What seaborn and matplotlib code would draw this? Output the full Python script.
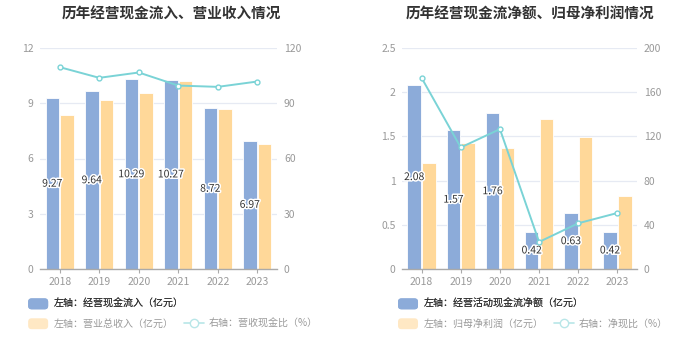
import matplotlib
matplotlib.use("Agg")
import matplotlib.pyplot as plt
import matplotlib.patheffects as pe
from matplotlib.patches import Patch, FancyBboxPatch
from matplotlib.lines import Line2D
from matplotlib.legend_handler import HandlerPatch
import seaborn as sns
import pandas as pd

sns.set_theme(style="white")
plt.rcParams['font.family'] = ['Noto Sans CJK SC', 'DejaVu Sans']

years = ["2018", "2019", "2020", "2021", "2022", "2023"]

# Left chart
cash_inflow = [9.27, 9.64, 10.29, 10.27, 8.72, 6.97]
revenue = [8.37, 9.20, 9.55, 10.22, 8.71, 6.78]
cash_rev_ratio = [109.6, 103.8, 106.7, 99.6, 98.9, 101.8]

# Right chart
net_cash = [2.08, 1.57, 1.76, 0.42, 0.63, 0.42]
net_profit = [1.20, 1.42, 1.37, 1.70, 1.49, 0.83]
net_cash_ratio = [173.0, 110.0, 126.6, 24.5, 41.4, 50.7]

BLUE = "#8cabd9"
ORANGE = "#ffd899"
TEAL = "#7ad3d6"
GRID = "#e6eaf3"
TICK = "#999999"

fig = plt.figure(figsize=(7.0, 3.59), dpi=100)


def rounded(legend, orig_handle, xdescent, ydescent, width, height, fontsize):
    return FancyBboxPatch((-xdescent, -ydescent), width, height,
                          boxstyle="round,pad=0,rounding_size=2.5")


HMAP = {Patch: HandlerPatch(patch_func=rounded)}


def draw(ax_rect, title_x, title, bars1, bars2, line, lname1, lname2, rname,
         ylim, yticks, yticklabels, rlim, rticks, label_fmt, leg_dx):
    ax = fig.add_axes(ax_rect)
    df = pd.DataFrame({
        "year": years * 2,
        "val": bars1 + bars2,
        "s": [lname1] * len(years) + [lname2] * len(years),
    })
    sns.barplot(data=df, x="year", y="val", hue="s", palette=[BLUE, ORANGE],
                width=0.75, gap=0.08, ax=ax, legend=False,
                edgecolor="white", linewidth=0.6, saturation=1)
    ax.set_ylim(*ylim)
    ax.set_yticks(yticks)
    ax.set_yticklabels(yticklabels)
    ax.set_xlim(-0.5, len(years) - 0.5)
    ax.set_xlabel("")
    ax.set_ylabel("")
    ax.grid(axis="y", color=GRID, linewidth=0.9)
    ax.set_axisbelow(True)
    for s in ["top", "right", "left"]:
        ax.spines[s].set_visible(False)
    ax.spines["bottom"].set_color("#aaaaaa")
    ax.spines["bottom"].set_linewidth(1.0)
    ax.tick_params(axis="x", colors="#aaaaaa", labelsize=7.5, length=3, width=0.8,
                   direction="out", pad=3, bottom=True, labelcolor=TICK)
    ax.tick_params(axis="y", colors=TICK, labelsize=7.5, length=0, pad=4.5)

    # value labels at middle of first-series bars
    cont = ax.containers[0]
    for rect, v in zip(cont, bars1):
        cx = rect.get_x() + rect.get_width() / 2
        ax.text(cx, v / 2, label_fmt.format(v), ha="center", va="center",
                fontsize=7.5, color="#333333",
                path_effects=[pe.withStroke(linewidth=2.2, foreground="white")],
                zorder=10)

    ax2 = ax.twinx()
    sns.lineplot(x=list(range(len(years))), y=line, ax=ax2, color=TEAL,
                 linewidth=1.4, marker="o", markersize=3.5,
                 markerfacecolor="white", markeredgecolor=TEAL,
                 markeredgewidth=1.0)
    ax2.set_ylim(*rlim)
    ax2.set_yticks(rticks)
    ax2.set_yticklabels([str(t) for t in rticks])
    ax2.grid(False)
    for s in ["top", "right", "left", "bottom"]:
        ax2.spines[s].set_visible(False)
    ax2.tick_params(axis="y", colors=TICK, labelsize=7.5, length=0, pad=5)
    ax2.set_xlim(-0.5, len(years) - 0.5)

    fig.text(title_x, 0.962, title, ha="center", va="center",
             fontsize=10.5, fontweight="bold", color="#333333")

    h1 = [Patch(facecolor=BLUE, edgecolor="none")]
    leg1 = ax.legend(h1, [lname1], loc="upper left",
                     bbox_to_anchor=(leg_dx, -0.133), frameon=False,
                     fontsize=7.2, handlelength=2.0, handleheight=1.3,
                     handletextpad=0.55, borderaxespad=0, borderpad=0,
                     handler_map=HMAP)
    for t in leg1.get_texts():
        t.set_color("#333333")
    h2 = [Patch(facecolor="#ffe8c4", edgecolor="none"),
          Line2D([0], [0], color="#b8e6e8", marker="o", markersize=6,
                 markerfacecolor="white", markeredgecolor="#b8e6e8",
                 linewidth=1.2)]
    leg2 = ax2.legend(h2, [lname2, rname], loc="upper left",
                      bbox_to_anchor=(leg_dx, -0.223), frameon=False,
                      fontsize=7.2, ncol=2, handlelength=2.0, handleheight=1.3,
                      handletextpad=0.55, columnspacing=1.0, borderaxespad=0,
                      borderpad=0, handler_map=HMAP)
    for t in leg2.get_texts():
        t.set_color("#999999")
    ax.add_artist(leg1)
    return ax, ax2


draw([40 / 700, 90 / 359, 237 / 700, 221 / 359], 171 / 700,
     "历年经营现金流入、营业收入情况",
     cash_inflow, revenue, cash_rev_ratio,
     "左轴：经营现金流入（亿元）", "左轴：营业总收入（亿元）", "右轴：营收现金比（%）",
     (0, 12), [0, 3, 6, 9, 12], ["0", "3", "6", "9", "12"],
     (0, 120), [0, 30, 60, 90, 120], "{:.2f}", -0.05)

draw([402 / 700, 90 / 359, 235 / 700, 221 / 359], 530 / 700,
     "历年经营现金流净额、归母净利润情况",
     net_cash, net_profit, net_cash_ratio,
     "左轴：经营活动现金流净额（亿元）", "左轴：归母净利润（亿元）", "右轴：净现比（%）",
     (0, 2.5), [0, 0.5, 1, 1.5, 2, 2.5], ["0", "0.5", "1", "1.5", "2", "2.5"],
     (0, 200), [0, 40, 80, 120, 160, 200], "{:.2f}", -0.017)

fig.savefig("out.png", dpi=100)
